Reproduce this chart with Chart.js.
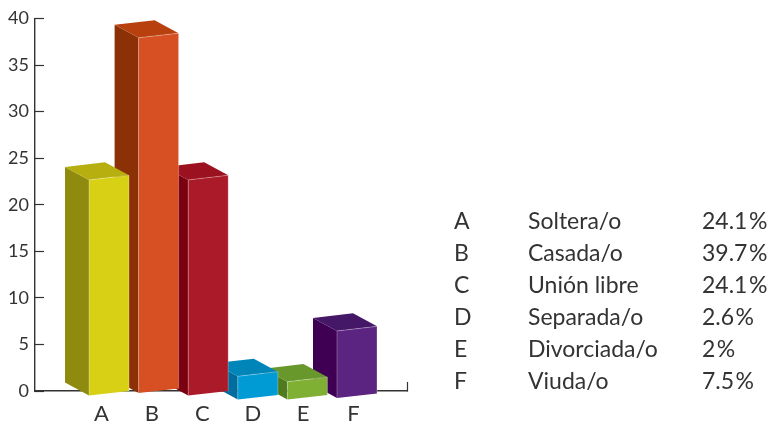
<!DOCTYPE html>
<html lang="es">
<head>
<meta charset="utf-8">
<title>Estado civil</title>
<script src="https://cdn.jsdelivr.net/npm/chart.js@4/dist/chart.umd.min.js"></script>
<style>
html,body{margin:0;padding:0;background:#fff}
canvas{display:block}
</style>
</head>
<body>
<canvas id="c" width="770" height="424"></canvas>
<script>
const categories = ['A', 'B', 'C', 'D', 'E', 'F'];
const statusNames = ['Soltera/o', 'Casada/o', 'Unión libre', 'Separada/o', 'Divorciada/o', 'Viuda/o'];
const values = [24.1, 39.7, 24.1, 2.6, 2, 7.5];
const percentLabels = ['24.1\u200a%', '39.7\u200a%', '24.1\u200a%', '2.6\u200a%', '2\u200a%', '7.5\u200a%'];
const yTicks = [0, 5, 10, 15, 20, 25, 30, 35, 40];

const frontColors = ['#D8D015', '#D65023', '#AB1A28', '#009BD5', '#7FB034', '#5A2480'];
const sideColors  = ['#8E8B0E', '#8C3006', '#7B0010', '#006D9E', '#4F7A1D', '#3F0054'];
const topColors   = ['#B7AE0F', '#B8400F', '#9C1120', '#0085B8', '#68982C', '#451767'];
const baseDrops   = [0, -2.5, 0, 4, 4, 2.5];

const FONT = 'Lato, "Noto Sans", sans-serif';
const TEXT = '#333333';

function poly(ctx, pts, fill) {
  ctx.beginPath();
  pts.forEach((p, i) => i ? ctx.lineTo(p[0], p[1]) : ctx.moveTo(p[0], p[1]));
  ctx.closePath();
  ctx.fillStyle = fill;
  ctx.fill();
}

const bars3d = {
  id: 'bars3d',
  beforeDatasetDraw(chart, args) {
    const ctx = chart.ctx, DX = 24, DY = 13, SKEW = 4.6;
    const els = args.meta.data;
    ctx.save();
    for (let i = els.length - 1; i >= 0; i--) {
      const e = els[i], half = e.width / 2, l = e.x - half, r = e.x + half;
      const d = baseDrops[i], t = e.y + d, b = e.base + d;
      const fl = [l, t + SKEW], fr = [r, t], bl = [l, b + SKEW], br = [r, b];
      const side = [fl, bl, [l - DX, b + SKEW - DY], [l - DX, t + SKEW - DY]];
      const top = [fl, fr, [r - DX, t - DY], [l - DX, t + SKEW - DY]];
      poly(ctx, side, sideColors[i]);
      poly(ctx, top, topColors[i]);
      poly(ctx, [fl, fr, br, bl], frontColors[i]);
      ctx.strokeStyle = 'rgba(255,255,255,0.28)';
      ctx.lineWidth = 1;
      ctx.beginPath();
      ctx.moveTo(bl[0], bl[1]); ctx.lineTo(fl[0], fl[1]); ctx.lineTo(fr[0], fr[1]); ctx.lineTo(br[0], br[1]);
      ctx.stroke();
    }
    ctx.restore();
    return false;
  }
};

const sideTable = {
  id: 'sideTable',
  afterDraw(chart) {
    const ctx = chart.ctx;
    ctx.save();
    ctx.font = '23px ' + FONT;
    ctx.fillStyle = TEXT;
    ctx.textAlign = 'left';
    ctx.textBaseline = 'alphabetic';
    categories.forEach((c, i) => {
      const y = 229 + i * 32;
      ctx.fillText(c, 454, y);
      ctx.fillText(statusNames[i], 528, y);
      ctx.fillText(percentLabels[i], 702, y);
    });
    ctx.restore();
  }
};

new Chart(document.getElementById('c'), {
  type: 'bar',
  plugins: [bars3d, sideTable],
  data: {
    datasets: [{
      data: values.map((v, i) => ({ x: i, y: v })),
      xAxisID: 'xb',
      yAxisID: 'yb',
      backgroundColor: frontColors,
      barThickness: 40
    }]
  },
  options: {
    responsive: false,
    animation: false,
    events: [],
    layout: { padding: { top: 18.5, right: 363, left: 0, bottom: 0 } },
    plugins: { legend: { display: false }, tooltip: { enabled: false } },
    scales: {
      y: {
        type: 'linear', position: 'left', min: 0, max: 40,
        afterFit: s => { s.width = 35; s.paddingTop = 0; s.paddingBottom = 0; },
        afterBuildTicks: s => { s.ticks = yTicks.map(v => ({ value: v })); },
        border: { color: TEXT, width: 1.4 },
        grid: { drawOnChartArea: false, tickLength: -9, tickColor: TEXT, tickWidth: 1.2 },
        ticks: { color: TEXT, font: { family: FONT, size: 18 }, padding: 15 }
      },
      x: {
        type: 'linear', position: 'bottom', min: -1.32, max: 6.06, offset: false,
        afterFit: s => { s.height = 33; },
        afterBuildTicks: s => { s.ticks = categories.map((c, i) => ({ value: i })).concat([{ value: s.max }]); },
        border: { color: TEXT, width: 1.4 },
        grid: {
          offset: false, drawOnChartArea: false, tickLength: -9, tickWidth: 1.2,
          tickColor: c => (c.tick && c.tick.value === c.scale.max ? TEXT : 'rgba(0,0,0,0)')
        },
        ticks: {
          color: TEXT, font: { family: FONT, size: 22 }, padding: 19, maxRotation: 0, autoSkip: false,
          callback: v => categories[v] || ''
        }
      },
      xb: { type: 'linear', display: false, offset: false, min: -1.492, max: 6.008 },
      yb: { type: 'linear', display: false, min: 0, max: 41.62 }
    }
  }
});
</script>
</body>
</html>
